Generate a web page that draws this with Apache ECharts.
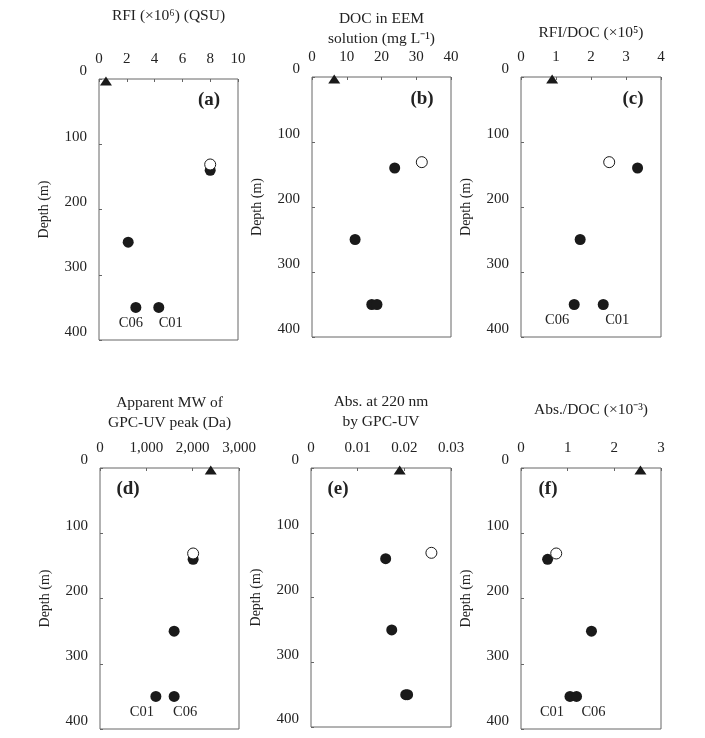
<!DOCTYPE html>
<html>
<head>
<meta charset="utf-8">
<script src="https://cdn.jsdelivr.net/npm/echarts@6/dist/echarts.min.js"></script>
<style>
  html, body { margin: 0; padding: 0; background: #fff; }
  #chart { width: 705px; height: 738px; }
</style>
</head>
<body>
<div id="chart"></div>
<script>
// depths (m), the same for every profile
const surfaceDepth = [3]
const openDepth = [131]
const filledDepth = [140, 250, 350, 350]

// (a) RFI
const rfiSurface = [0.5]
const rfiOpen = [8.0]
const rfiFilled = [8.0, 2.1, 2.65, 4.3]
const rfiSites = ['', '', 'C06', 'C01']
const rfiTicks = [0, 10, 2]

// (b) DOC in EEM solution
const docSurface = [6.4]
const docOpen = [31.6]
const docFilled = [23.8, 12.4, 17.2, 18.7]
const docSites = ['', '', '', '']
const docTicks = [0, 40, 10]

// (c) RFI/DOC
const ratioSurface = [0.89]
const ratioOpen = [2.52]
const ratioFilled = [3.33, 1.69, 1.52, 2.35]
const ratioSites = ['', '', 'C06', 'C01']
const ratioTicks = [0, 4, 1]

// (d) apparent MW
const mwSurface = [2390]
const mwOpen = [2010]
const mwFilled = [2010, 1600, 1206, 1600]
const mwSites = ['', '', 'C01', 'C06']
const mwTicks = [0, 3000, 1000]

// (e) Abs. at 220 nm
const absSurface = [0.019]
const absOpen = [0.0258]
const absFilled = [0.016, 0.0173, 0.0203, 0.0207]
const absSites = ['', '', '', '']
const absTicks = [0, 0.03, 0.01]

// (f) Abs./DOC
const absDocSurface = [2.56]
const absDocOpen = [0.755]
const absDocFilled = [0.57, 1.51, 1.05, 1.19]
const absDocSites = ['', '', 'C01', 'C06']
const absDocTicks = [0, 3, 1]

const depthTicks = [0, 400, 100]

const FONT = 'Liberation Serif, Times New Roman, serif'
const INK = '#1a1a1a'
const TEXT = '#222'
const FRAME = '#666'

const panels = [
    { tag: '(a)', name: 'RFI (×10⁶) (QSU)', nameGap: 53, ticks: rfiTicks,
      surface: rfiSurface, open: rfiOpen, filled: rfiFilled, sites: rfiSites,
      box: [99, 79, 139, 261], tagPos: [209, 100], siteDx: [0, 0, -5, 12] },
    { tag: '(b)', name: 'DOC in EEM\nsolution (mg L⁻¹)', nameGap: 28, ticks: docTicks,
      surface: docSurface, open: docOpen, filled: docFilled, sites: docSites,
      box: [312, 77, 139, 260], tagPos: [422, 99], siteDx: [0, 0, 0, 0] },
    { tag: '(c)', name: 'RFI/DOC (×10⁵)', nameGap: 34, ticks: ratioTicks,
      surface: ratioSurface, open: ratioOpen, filled: ratioFilled, sites: ratioSites,
      box: [521, 77, 140, 260], tagPos: [633, 99], siteDx: [0, 0, -17, 14] },
    { tag: '(d)', name: 'Apparent MW of\nGPC-UV peak (Da)', nameGap: 35, ticks: mwTicks,
      surface: mwSurface, open: mwOpen, filled: mwFilled, sites: mwSites,
      box: [100, 468, 139, 261], tagPos: [128, 489], siteDx: [0, 0, -14, 11] },
    { tag: '(e)', name: 'Abs. at 220 nm\nby GPC-UV', nameGap: 36, ticks: absTicks,
      surface: absSurface, open: absOpen, filled: absFilled, sites: absSites,
      box: [311, 468, 140, 259], tagPos: [338, 489], siteDx: [0, 0, 0, 0] },
    { tag: '(f)', name: 'Abs./DOC (×10⁻³)', nameGap: 48, ticks: absDocTicks,
      surface: absDocSurface, open: absDocOpen, filled: absDocFilled, sites: absDocSites,
      box: [521, 468, 140, 261], tagPos: [548, 489], siteDx: [0, 0, -18, 17] }
]

const pts = (xs, ys) => xs.map((x, k) => [x, ys[k]])

const grids = []
const xAxes = []
const yAxes = []
const series = []
const texts = []

panels.forEach((p, i) => {
    grids.push({
        left: p.box[0], top: p.box[1], width: p.box[2], height: p.box[3],
        show: true, borderColor: FRAME, borderWidth: 1
    })
    xAxes.push({
        gridIndex: i, type: 'value', position: 'top',
        min: p.ticks[0], max: p.ticks[1], interval: p.ticks[2],
        axisLine: { show: false },
        axisTick: { inside: true, length: 3, lineStyle: { color: FRAME } },
        splitLine: { show: false },
        axisLabel: {
            fontFamily: FONT, fontSize: 15, color: TEXT, margin: 12,
            formatter: v => i === 3 ? v.toLocaleString('en-US') : String(+v.toFixed(4))
        },
        name: p.name, nameLocation: 'middle', nameGap: p.nameGap,
        nameTextStyle: { fontFamily: FONT, fontSize: 15.5, color: TEXT, lineHeight: 20 }
    })
    yAxes.push({
        gridIndex: i, type: 'value', inverse: true,
        min: depthTicks[0], max: depthTicks[1], interval: depthTicks[2],
        axisLine: { show: false },
        axisTick: { inside: true, length: 3, lineStyle: { color: FRAME } },
        splitLine: { show: false },
        axisLabel: { fontFamily: FONT, fontSize: 15, color: TEXT, margin: 12, verticalAlign: 'bottom' },
        name: 'Depth (m)', nameLocation: 'middle', nameGap: 48,
        nameTextStyle: { fontFamily: FONT, fontSize: 14, color: TEXT }
    })
    series.push({
        type: 'scatter', xAxisIndex: i, yAxisIndex: i, clip: false,
        symbol: 'circle', symbolSize: 11,
        itemStyle: { color: INK, opacity: 1 },
        data: pts(p.filled, filledDepth).map((v, k) => p.sites[k] ? {
            value: v,
            label: {
                show: true, formatter: p.sites[k], position: 'bottom', distance: 3,
                offset: [p.siteDx[k], 0],
                fontFamily: FONT, fontSize: 14.5, color: TEXT
            }
        } : v)
    })
    series.push({
        type: 'scatter', xAxisIndex: i, yAxisIndex: i, clip: false,
        symbol: 'circle', symbolSize: 11,
        itemStyle: { color: '#fff', borderColor: INK, borderWidth: 1, opacity: 1 },
        data: pts(p.open, openDepth)
    })
    series.push({
        type: 'scatter', xAxisIndex: i, yAxisIndex: i, clip: false,
        symbol: 'triangle', symbolSize: [12, 9],
        itemStyle: { color: INK, opacity: 1 },
        data: pts(p.surface, surfaceDepth)
    })
    texts.push({
        type: 'text', x: p.tagPos[0], y: p.tagPos[1],
        style: {
            text: p.tag, font: 'bold 19px ' + FONT, fill: TEXT,
            textAlign: 'center', textVerticalAlign: 'middle'
        }
    })
})

const chart = echarts.init(document.getElementById('chart'))
chart.setOption({
    animation: false,
    backgroundColor: '#fff',
    grid: grids,
    xAxis: xAxes,
    yAxis: yAxes,
    series: series,
    graphic: texts
})
</script>
</body>
</html>
